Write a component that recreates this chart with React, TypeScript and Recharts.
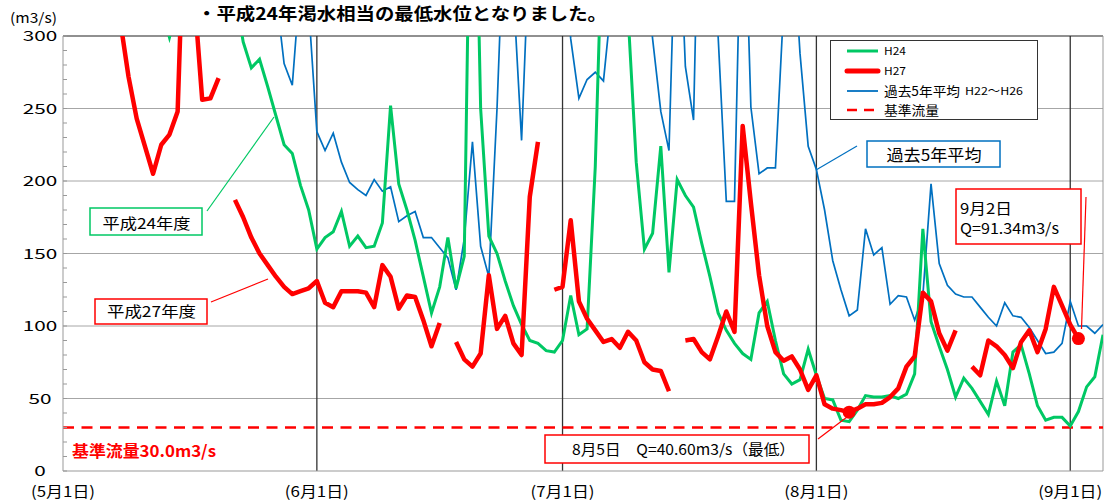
import {
  LineChart,
  Line,
  XAxis,
  YAxis,
  CartesianGrid,
  ReferenceLine,
  ReferenceDot,
} from 'recharts';

// daily flow (m3/s), index 0 = 5/1 ... 127 = 9/5
const h24 = [
  420, 400, 390, 370, 360, 350, 340, 335, 340, 350, 345, 330, 320, 299, 320, 350,
  380, 400, 390, 370, 350, 330, 296, 278, 284, 265, 245, 225, 219, 197, 180, 153,
  161, 165, 179, 155, 162, 154, 155, 171, 252, 198, 180, 159, 134, 109, 127, 161,
  126, 148, 520, 250, 162, 150, 131, 114, 101, 90, 88, 83, 82, 90, 121, 94,
  98, 210, 400, 420, 380, 315, 213, 153, 164, 224, 137, 201, 190, 182, 157, 134,
  109, 97, 88, 81, 77, 109, 117, 90, 67, 60, 63, 84, 66, 50, 49, 35,
  34, 42, 52, 51, 51, 52, 50, 53, 67, 167, 103, 86, 70, 51, 64, 57,
  48, 39, 62, 45, 82, 87, 67, 45, 35, 37, 37, 31, 41, 58, 65, 94,
];

const h27 = [
  null, null, null, null, null, null, null, 310, 272, 243, 224, 205, 225, 232, 248, 420,
  330, 256, 257, 271, null, 187, 175, 161, 150, 142, 134, 127, 122, 124, 126, 131,
  116, 113, 124, 124, 124, 123, 113, 142, 134, 112, 121, 120, 104, 86, 102, null,
  89, 77, 72, 81, 135, 98, 107, 88, 80, 189, 227, null, 125, 127, 173, 117,
  105, 97, 89, 91, 85, 96, 90, 75, 70, 69, 55, null, 90, 91, 82, 77,
  93, 110, 96, 238, 185, 135, 100, 82, 76, 79, 70, 56, 66, 46, 43, 42,
  40.6, 43, 46, 46, 47, 51, 57, 72, 79, 123, 117, 95, 83, 97, null, 72,
  66, 90, 86, 80, 71, 89, 97, 82, 98, 127, 114, 101, 91.34, null, null, null,
];

const avg5 = [
  450, 480, 500, 470, 430, 420, 450, 500, 520, 480, 460, 430, 410, 400, 420, 450,
  470, 460, 440, 420, 400, 380, 370, 360, 350, 345, 330, 281, 266, 340, 320, 234,
  221, 233, 213, 199, 194, 190, 201, 193, 196, 172, 176, 179, 161, 161, 154, 147,
  125, 160, 227, 155, 134, 250, 400, 331, 228, 372, 450, 480, 430, 380, 298, 257,
  270, 275, 269, 325, 380, 430, 420, 360, 298, 248, 221, 418, 279, 242, 500, 420,
  300, 186, 186, 440, 251, 205, 209, 209, 320, 380, 288, 224, 208, 180, 145, 125,
  107, 111, 167, 149, 154, 115, 121, 120, 104, 121, 198, 143, 128, 122, 120, 120,
  113, 106, 100, 116, 107, 106, 99, 90, 81, 82, 88, 117, 100, 100, 95, 101,
];

const baseFlow = 30.0;
const monthTicks = [0, 31, 61, 92, 123];
const monthLabels = ['(5月1日)', '(6月1日)', '(7月1日)', '(8月1日)', '(9月1日)'];
const yTicks = [0, 10, 20, 30, 40, 50, 60, 70, 80, 90, 100, 110, 120, 130, 140, 150, 160, 170, 180, 190, 200, 210, 220, 230, 240, 250, 260, 270, 280, 290, 300];
const lowDay = 96; // 8/5
const lastDay = 124; // 9/2

const data = h24.map((v, i) => ({ d: i, h24: v, h27: h27[i], avg: avg5[i] }));

const GREEN = '#00c864';
const RED = '#ff0000';
const BLUE = '#0070c0';
const FONT = "'Noto Sans CJK JP', sans-serif";

const YTick = (props: any) => {
  const { x, y, payload } = props;
  const v = payload.value;
  return (
    <g>
      <line x1={x} x2={x + 4} y1={y} y2={y} stroke="#999" />
      {v % 50 === 0 && (
        <text x={x - 23} y={y} dy={5} textAnchor="middle" fontSize={14} fill="#000"
          textLength={String(v).length * 11.5} lengthAdjust="spacingAndGlyphs">
          {v}
        </text>
      )}
    </g>
  );
};

const XTick = (props: any) => {
  const { x, y, payload } = props;
  const label = monthLabels[monthTicks.indexOf(payload.value)];
  return (
    <text x={x} y={y} dy={26} textAnchor="middle" fontSize={15} fill="#000"
      textLength={64} lengthAdjust="spacingAndGlyphs">
      {label}
    </text>
  );
};

const T = (p: any) => (
  <text fontFamily={FONT} fill="#000" lengthAdjust="spacingAndGlyphs" {...p} />
);

function Overlay() {
  return (
    <svg width={1110} height={502} style={{ position: 'absolute', left: 0, top: 0, pointerEvents: 'none' }}>
      <T x={197} y={20} fontSize={17} fontWeight="bold" textLength={410}>・平成24年渇水相当の最低水位となりました。</T>
      <T x={10} y={23} fontSize={14} textLength={47}>(m3/s)</T>

      {/* legend */}
      <rect x={830.5} y={40.5} width={207} height={79} fill="#fff" stroke="#333" />
      <line x1={847} x2={878} y1={51} y2={51} stroke={GREEN} strokeWidth={3} />
      <line x1={847} x2={878} y1={71} y2={71} stroke={RED} strokeWidth={5} strokeLinecap="round" />
      <line x1={847} x2={878} y1={91} y2={91} stroke={BLUE} strokeWidth={1.8} />
      <line x1={847} x2={878} y1={110} y2={110} stroke={RED} strokeWidth={2.5} strokeDasharray="10 7" />
      <T x={884} y={55} fontSize={11} textLength={22}>H24</T>
      <T x={884} y={75} fontSize={11} textLength={22}>H27</T>
      <T x={884} y={95.5} fontSize={13} textLength={76}>過去5年平均</T>
      <T x={965} y={95} fontSize={11} textLength={58}>H22～H26</T>
      <T x={884} y={115} fontSize={13} textLength={55}>基準流量</T>

      {/* callouts */}
      <line x1={207} y1={211} x2={274} y2={117} stroke={GREEN} strokeWidth={1.2} />
      <rect x={90} y={208} width={112} height={27} fill="#fff" stroke={GREEN} strokeWidth={1.5} />
      <T x={102.5} y={229} fontSize={15} textLength={88}>平成24年度</T>

      <line x1={211} y1={302} x2={268} y2={279} stroke={RED} strokeWidth={1.2} />
      <rect x={95} y={299} width={112} height={25} fill="#fff" stroke={RED} strokeWidth={1.5} />
      <T x={107} y={317} fontSize={15} textLength={89}>平成27年度</T>

      <line x1={857} y1={146} x2={816} y2={170} stroke={BLUE} strokeWidth={1.2} />
      <rect x={867} y={141} width={133} height={26} fill="#fff" stroke={BLUE} strokeWidth={1.5} />
      <T x={886.5} y={161} fontSize={16} textLength={95}>過去5年平均</T>

      <line x1={1086} y1={197} x2={1081.5} y2={329} stroke={RED} strokeWidth={1.2} />
      <rect x={956} y={189} width={125} height={55} fill="#fff" stroke={RED} strokeWidth={1.5} />
      <T x={960} y={213.5} fontSize={15} textLength={52}>9月2日</T>
      <T x={960} y={234} fontSize={15} textLength={99}>Q=91.34m3/s</T>

      <line x1={818} y1={439} x2={847} y2={417} stroke={RED} strokeWidth={1.2} />
      <rect x={545} y={435} width={264} height={28} fill="#fff" stroke={RED} strokeWidth={1.5} />
      <T x={572} y={455} fontSize={15} textLength={223}>8月5日　Q=40.60m3/s（最低）</T>

      <T x={72} y={457} fontSize={16} fontWeight="bold" fill={RED} textLength={144}>基準流量30.0m3/s</T>
    </svg>
  );
}

export default function App() {
  return (
    <div style={{ position: 'absolute', left: 0, top: 0, width: 1110, height: 502, background: '#fff', fontFamily: FONT }}>
      <LineChart width={1110} height={502} data={data} margin={{ top: 36, right: 7, left: 0, bottom: 0 }}>
        <CartesianGrid vertical={false} horizontalValues={[50, 100, 150, 200, 250]} stroke="#a6a6a6" />
        <CartesianGrid horizontal={false} verticalValues={monthTicks.slice(1)} stroke="#333" strokeWidth={1.3} />
        <XAxis
          dataKey="d"
          type="number"
          domain={[0, 127]}
          ticks={monthTicks}
          tick={<XTick />}
          tickLine={false}
          tickSize={0}
          tickMargin={0}
          height={31}
          axisLine={{ stroke: '#999' }}
          allowDataOverflow
        />
        <YAxis
          type="number"
          domain={[0, 300]}
          ticks={yTicks}
          interval={0}
          tick={<YTick />}
          tickLine={false}
          tickSize={0}
          tickMargin={0}
          width={63}
          axisLine={{ stroke: '#999' }}
          allowDataOverflow
        />
        <ReferenceLine y={300} stroke="#222" strokeWidth={1.2} />
        <ReferenceLine x={127} stroke="#999" />
        <ReferenceLine y={baseFlow} stroke={RED} strokeWidth={2.5} strokeDasharray="11 7.5" />
        <Line dataKey="avg" name="過去5年平均 H22～H26" stroke={BLUE} strokeWidth={1.7} dot={false} isAnimationActive={false} />
        <Line dataKey="h24" name="H24" stroke={GREEN} strokeWidth={3} dot={false} isAnimationActive={false} />
        <Line dataKey="h27" name="H27" stroke={RED} strokeWidth={4.5} strokeLinejoin="round" dot={false} isAnimationActive={false} />
        <ReferenceDot x={lowDay} y={h27[lowDay] as number} r={6.5} fill={RED} stroke="none" />
        <ReferenceDot x={lastDay} y={h27[lastDay] as number} r={6.5} fill={RED} stroke="none" />
      </LineChart>
      <Overlay />
    </div>
  );
}
